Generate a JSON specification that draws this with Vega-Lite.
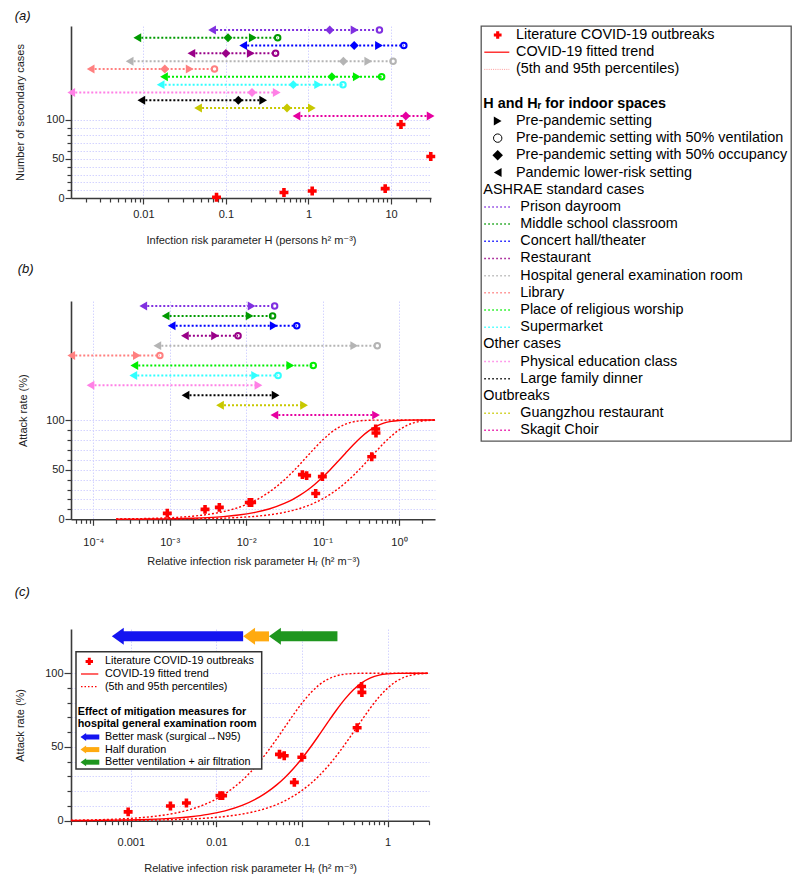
{
  "$schema": "https://vega.github.io/schema/vega-lite/v6.json",
  "padding": {"left": 14, "top": 10, "right": 0, "bottom": 0},
  "background": "white",
  "datasets": {
    "sp": [
      {"p":"a","c":"Prison dayroom","y":215,"s":"lower","v":0.068},
      {"p":"a","c":"Prison dayroom","y":215,"s":"occ","v":1.81},
      {"p":"a","c":"Prison dayroom","y":215,"s":"pre","v":3.62},
      {"p":"a","c":"Prison dayroom","y":215,"s":"vent","v":7.24},
      {"p":"a","c":"Middle school classroom","y":205,"s":"lower","v":0.00845},
      {"p":"a","c":"Middle school classroom","y":205,"s":"occ","v":0.106},
      {"p":"a","c":"Middle school classroom","y":205,"s":"pre","v":0.212},
      {"p":"a","c":"Middle school classroom","y":205,"s":"vent","v":0.424},
      {"p":"a","c":"Concert hall/theater","y":195,"s":"lower","v":0.162},
      {"p":"a","c":"Concert hall/theater","y":195,"s":"occ","v":3.58},
      {"p":"a","c":"Concert hall/theater","y":195,"s":"pre","v":7.15},
      {"p":"a","c":"Concert hall/theater","y":195,"s":"vent","v":14.3},
      {"p":"a","c":"Restaurant","y":185,"s":"lower","v":0.0382},
      {"p":"a","c":"Restaurant","y":185,"s":"occ","v":0.1},
      {"p":"a","c":"Restaurant","y":185,"s":"pre","v":0.2},
      {"p":"a","c":"Restaurant","y":185,"s":"vent","v":0.4},
      {"p":"a","c":"Hospital general examination room","y":175,"s":"lower","v":0.00682},
      {"p":"a","c":"Hospital general examination room","y":175,"s":"occ","v":2.65},
      {"p":"a","c":"Hospital general examination room","y":175,"s":"pre","v":5.3},
      {"p":"a","c":"Hospital general examination room","y":175,"s":"vent","v":10.6},
      {"p":"a","c":"Library","y":165,"s":"lower","v":0.0023},
      {"p":"a","c":"Library","y":165,"s":"occ","v":0.0182},
      {"p":"a","c":"Library","y":165,"s":"pre","v":0.0364},
      {"p":"a","c":"Library","y":165,"s":"vent","v":0.0728},
      {"p":"a","c":"Place of religious worship","y":155,"s":"lower","v":0.0178},
      {"p":"a","c":"Place of religious worship","y":155,"s":"occ","v":1.92},
      {"p":"a","c":"Place of religious worship","y":155,"s":"pre","v":3.85},
      {"p":"a","c":"Place of religious worship","y":155,"s":"vent","v":7.7},
      {"p":"a","c":"Supermarket","y":145,"s":"lower","v":0.0162},
      {"p":"a","c":"Supermarket","y":145,"s":"occ","v":0.655},
      {"p":"a","c":"Supermarket","y":145,"s":"pre","v":1.31},
      {"p":"a","c":"Supermarket","y":145,"s":"vent","v":2.62},
      {"p":"a","c":"Physical education class","y":135,"s":"lower","v":0.00134},
      {"p":"a","c":"Physical education class","y":135,"s":"occ","v":0.207},
      {"p":"a","c":"Physical education class","y":135,"s":"pre","v":0.413},
      {"p":"a","c":"Large family dinner","y":125,"s":"lower","v":0.00946},
      {"p":"a","c":"Large family dinner","y":125,"s":"occ","v":0.1415},
      {"p":"a","c":"Large family dinner","y":125,"s":"pre","v":0.283},
      {"p":"a","c":"Guangzhou restaurant","y":115,"s":"lower","v":0.046},
      {"p":"a","c":"Guangzhou restaurant","y":115,"s":"occ","v":0.55},
      {"p":"a","c":"Guangzhou restaurant","y":115,"s":"pre","v":1.1},
      {"p":"a","c":"Skagit Choir","y":105,"s":"lower","v":0.716},
      {"p":"a","c":"Skagit Choir","y":105,"s":"occ","v":15.1},
      {"p":"a","c":"Skagit Choir","y":105,"s":"pre","v":30.2},
      {"p":"b","c":"Prison dayroom","y":215,"s":"lower","v":0.000451},
      {"p":"b","c":"Prison dayroom","y":215,"s":"pre","v":0.0118},
      {"p":"b","c":"Prison dayroom","y":215,"s":"vent","v":0.0236},
      {"p":"b","c":"Middle school classroom","y":205,"s":"lower","v":0.000883},
      {"p":"b","c":"Middle school classroom","y":205,"s":"pre","v":0.0111},
      {"p":"b","c":"Middle school classroom","y":205,"s":"vent","v":0.0222},
      {"p":"b","c":"Concert hall/theater","y":195,"s":"lower","v":0.00106},
      {"p":"b","c":"Concert hall/theater","y":195,"s":"pre","v":0.023},
      {"p":"b","c":"Concert hall/theater","y":195,"s":"vent","v":0.046},
      {"p":"b","c":"Restaurant","y":185,"s":"lower","v":0.00158},
      {"p":"b","c":"Restaurant","y":185,"s":"pre","v":0.00392},
      {"p":"b","c":"Restaurant","y":185,"s":"vent","v":0.00784},
      {"p":"b","c":"Hospital general examination room","y":175,"s":"lower","v":0.000689},
      {"p":"b","c":"Hospital general examination room","y":175,"s":"pre","v":0.26},
      {"p":"b","c":"Hospital general examination room","y":175,"s":"vent","v":0.52},
      {"p":"b","c":"Library","y":165,"s":"lower","v":0.0000515},
      {"p":"b","c":"Library","y":165,"s":"pre","v":0.000372},
      {"p":"b","c":"Library","y":165,"s":"vent","v":0.000744},
      {"p":"b","c":"Place of religious worship","y":155,"s":"lower","v":0.000344},
      {"p":"b","c":"Place of religious worship","y":155,"s":"pre","v":0.0378},
      {"p":"b","c":"Place of religious worship","y":155,"s":"vent","v":0.0756},
      {"p":"b","c":"Supermarket","y":145,"s":"lower","v":0.000334},
      {"p":"b","c":"Supermarket","y":145,"s":"pre","v":0.0131},
      {"p":"b","c":"Supermarket","y":145,"s":"vent","v":0.0262},
      {"p":"b","c":"Physical education class","y":135,"s":"lower","v":0.000092},
      {"p":"b","c":"Physical education class","y":135,"s":"pre","v":0.0145},
      {"p":"b","c":"Large family dinner","y":125,"s":"lower","v":0.00161},
      {"p":"b","c":"Large family dinner","y":125,"s":"pre","v":0.0243},
      {"p":"b","c":"Guangzhou restaurant","y":115,"s":"lower","v":0.00455},
      {"p":"b","c":"Guangzhou restaurant","y":115,"s":"pre","v":0.0573},
      {"p":"b","c":"Skagit Choir","y":105,"s":"lower","v":0.0234},
      {"p":"b","c":"Skagit Choir","y":105,"s":"pre","v":0.501}
    ],
    "pa": [
      {"h":0.077,"n":1},{"h":0.505,"n":7},{"h":1.11,"n":9},{"h":8.5,"n":12},{"h":13.2,"n":94},{"h":30.3,"n":53}
    ],
    "pb": [
      {"hr":0.00093,"ar":6},{"hr":0.0029,"ar":10},{"hr":0.00446,"ar":12},{"hr":0.011,"ar":17},{"hr":0.0118,"ar":17},
      {"hr":0.0545,"ar":45},{"hr":0.0619,"ar":44},{"hr":0.0813,"ar":26},{"hr":0.0994,"ar":43},
      {"hr":0.44,"ar":63},{"hr":0.496,"ar":91},{"hr":0.5,"ar":87}
    ],
    "cv": [
      {"k":"fit","hr":0.0001995,"ar":0.11},{"k":"fit","hr":0.0003162,"ar":0.17},{"k":"fit","hr":0.0005012,"ar":0.28},{"k":"fit","hr":0.0007943,"ar":0.44},
      {"k":"fit","hr":0.001259,"ar":0.69},{"k":"fit","hr":0.001995,"ar":1.09},{"k":"fit","hr":0.003162,"ar":1.72},{"k":"fit","hr":0.005012,"ar":2.72},
      {"k":"fit","hr":0.007943,"ar":4.27},{"k":"fit","hr":0.01259,"ar":6.69},{"k":"fit","hr":0.01995,"ar":10.39},{"k":"fit","hr":0.03162,"ar":15.96},
      {"k":"fit","hr":0.03981,"ar":19.67},{"k":"fit","hr":0.05012,"ar":24.1},{"k":"fit","hr":0.0631,"ar":29.32},{"k":"fit","hr":0.07943,"ar":35.39},
      {"k":"fit","hr":0.1,"ar":42.31},{"k":"fit","hr":0.1259,"ar":49.97},{"k":"fit","hr":0.1585,"ar":58.18},{"k":"fit","hr":0.1995,"ar":66.61},
      {"k":"fit","hr":0.2512,"ar":74.88},{"k":"fit","hr":0.3162,"ar":82.43},{"k":"fit","hr":0.3981,"ar":88.8},{"k":"fit","hr":0.5012,"ar":93.65},
      {"k":"fit","hr":0.631,"ar":96.89},{"k":"fit","hr":0.7943,"ar":98.73},{"k":"fit","hr":1.0,"ar":99.59},{"k":"fit","hr":1.259,"ar":99.9},
      {"k":"fit","hr":1.995,"ar":100},{"k":"fit","hr":2.96,"ar":100},
      {"k":"p95","hr":0.0001995,"ar":0.32},{"k":"p95","hr":0.0003162,"ar":0.5},{"k":"p95","hr":0.0005012,"ar":0.8},{"k":"p95","hr":0.0007943,"ar":1.26},
      {"k":"p95","hr":0.001259,"ar":1.99},{"k":"p95","hr":0.001995,"ar":3.14},{"k":"p95","hr":0.003162,"ar":4.93},{"k":"p95","hr":0.005012,"ar":7.71},
      {"k":"p95","hr":0.00631,"ar":9.61},{"k":"p95","hr":0.007943,"ar":11.94},{"k":"p95","hr":0.01,"ar":14.79},{"k":"p95","hr":0.01259,"ar":18.24},
      {"k":"p95","hr":0.01585,"ar":22.4},{"k":"p95","hr":0.01995,"ar":27.33},{"k":"p95","hr":0.02512,"ar":33.09},{"k":"p95","hr":0.03162,"ar":39.7},
      {"k":"p95","hr":0.03981,"ar":47.11},{"k":"p95","hr":0.05012,"ar":55.15},{"k":"p95","hr":0.0631,"ar":63.56},{"k":"p95","hr":0.07943,"ar":71.95},
      {"k":"p95","hr":0.1,"ar":79.81},{"k":"p95","hr":0.1259,"ar":86.65},{"k":"p95","hr":0.1585,"ar":92.08},{"k":"p95","hr":0.1995,"ar":95.89},
      {"k":"p95","hr":0.2512,"ar":98.2},{"k":"p95","hr":0.3162,"ar":99.37},{"k":"p95","hr":0.5012,"ar":99.97},{"k":"p95","hr":0.7943,"ar":100},
      {"k":"p95","hr":1.259,"ar":100},{"k":"p95","hr":1.995,"ar":100},{"k":"p95","hr":2.96,"ar":100},
      {"k":"p5","hr":0.0001995,"ar":0.05},{"k":"p5","hr":0.0003162,"ar":0.07},{"k":"p5","hr":0.0005012,"ar":0.12},{"k":"p5","hr":0.0007943,"ar":0.18},
      {"k":"p5","hr":0.001259,"ar":0.29},{"k":"p5","hr":0.001995,"ar":0.46},{"k":"p5","hr":0.003162,"ar":0.72},{"k":"p5","hr":0.005012,"ar":1.15},
      {"k":"p5","hr":0.007943,"ar":1.81},{"k":"p5","hr":0.01259,"ar":2.85},{"k":"p5","hr":0.01995,"ar":4.49},{"k":"p5","hr":0.03162,"ar":7.01},
      {"k":"p5","hr":0.03981,"ar":8.75},{"k":"p5","hr":0.05012,"ar":10.89},{"k":"p5","hr":0.0631,"ar":13.51},{"k":"p5","hr":0.07943,"ar":16.7},
      {"k":"p5","hr":0.1,"ar":20.55},{"k":"p5","hr":0.1259,"ar":25.14},{"k":"p5","hr":0.1585,"ar":30.55},{"k":"p5","hr":0.1995,"ar":36.8},
      {"k":"p5","hr":0.2512,"ar":43.89},{"k":"p5","hr":0.3162,"ar":51.68},{"k":"p5","hr":0.3981,"ar":59.97},{"k":"p5","hr":0.5012,"ar":68.43},
      {"k":"p5","hr":0.631,"ar":76.57},{"k":"p5","hr":0.7943,"ar":83.91},{"k":"p5","hr":1.0,"ar":89.97},{"k":"p5","hr":1.259,"ar":94.47},
      {"k":"p5","hr":1.585,"ar":97.39},{"k":"p5","hr":1.995,"ar":98.98},{"k":"p5","hr":2.96,"ar":99.9}
    ],
    "ar": [
      {"m":"mask","from":0.0205,"to":0.0006},
      {"m":"duration","from":0.0411,"to":0.0205},
      {"m":"vent","from":0.259,"to":0.0411}
    ],
    "lr": [
      {"row":0,"k":"cross","label":"Literature COVID-19 outbreaks"},
      {"row":1,"k":"solid","label":"COVID-19 fitted trend"},
      {"row":2,"k":"dotted","label":"(5th and 95th percentiles)"},
      {"row":4,"k":"header","label":"H and Hᵣ for indoor spaces"},
      {"row":5,"k":"pre","label":"Pre-pandemic setting"},
      {"row":6,"k":"vent","label":"Pre-pandemic setting with 50% ventilation"},
      {"row":7,"k":"occ","label":"Pre-pandemic setting with 50% occupancy"},
      {"row":8,"k":"lower","label":"Pandemic lower-risk setting"},
      {"row":9,"k":"group","label":"ASHRAE standard cases"},
      {"row":10,"k":"case","label":"Prison dayroom"},
      {"row":11,"k":"case","label":"Middle school classroom"},
      {"row":12,"k":"case","label":"Concert hall/theater"},
      {"row":13,"k":"case","label":"Restaurant"},
      {"row":14,"k":"case","label":"Hospital general examination room"},
      {"row":15,"k":"case","label":"Library"},
      {"row":16,"k":"case","label":"Place of religious worship"},
      {"row":17,"k":"case","label":"Supermarket"},
      {"row":18,"k":"group","label":"Other cases"},
      {"row":19,"k":"case","label":"Physical education class"},
      {"row":20,"k":"case","label":"Large family dinner"},
      {"row":21,"k":"group","label":"Outbreaks"},
      {"row":22,"k":"case","label":"Guangzhou restaurant"},
      {"row":23,"k":"case","label":"Skagit Choir"}
    ],
    "lc": [
      {"row":0,"k":"cross","label":"Literature COVID-19 outbreaks"},
      {"row":1,"k":"solid","label":"COVID-19 fitted trend"},
      {"row":2,"k":"dotted","label":"(5th and 95th percentiles)"},
      {"row":4,"k":"header","label":"Effect of mitigation measures for"},
      {"row":5,"k":"header","label":"hospital general examination room"},
      {"row":6,"k":"arrow","m":"mask","label":"Better mask (surgical→N95)"},
      {"row":7,"k":"arrow","m":"duration","label":"Half duration"},
      {"row":8,"k":"arrow","m":"vent","label":"Better ventilation + air filtration"}
    ]
  },
  "hconcat": [
    {
      "spacing": 18,
      "resolve": {"scale": {"x": "independent", "y": "independent"}},
      "vconcat": [
        {
          "title": {"text": "(a)", "offset": 0},
          "width": 360,
          "height": 172,
          "layer": [
            {
              "data": {"name": "sp"},
              "transform": [
                {"filter": "datum.p == 'a'"},
                {"aggregate": [{"op": "min", "field": "v", "as": "lo"}, {"op": "max", "field": "v", "as": "hi"}], "groupby": ["c", "y"]}
              ],
              "mark": {"type": "rule", "strokeDash": [2, 2], "strokeWidth": 2},
              "encoding": {
                "x": {"field": "lo", "type": "quantitative", "scale": {"type": "log", "domain": [0.00133, 30.5], "nice": false},
                  "axis": {"title": "Infection risk parameter H (persons h² m⁻³)",
                    "values": [0.002,0.003,0.004,0.005,0.006,0.007,0.008,0.009,0.01,0.02,0.03,0.04,0.05,0.06,0.07,0.08,0.09,0.1,0.2,0.3,0.4,0.5,0.6,0.7,0.8,0.9,1,2,3,4,5,6,7,8,9,10,20,30],
                    "tickCount": 200,
                    "format": "~g",
                    "labelExpr": "abs(log(datum.value)/LN10 - round(log(datum.value)/LN10)) < 0.01 ? datum.label : ''",
                    "tickSize": {"condition": {"test": "abs(log(datum.value)/LN10 - round(log(datum.value)/LN10)) < 0.01", "value": 6}, "value": 4},
                    "grid": true,
                    "gridOpacity": {"condition": {"test": "abs(log(datum.value)/LN10 - round(log(datum.value)/LN10)) < 0.01", "value": 1}, "value": 0},
                    "labelPadding": 4, "titlePadding": 15, "labelFlush": false, "labelOverlap": false}},
                "x2": {"field": "hi"},
                "y": {"field": "y", "type": "quantitative", "scale": {"domain": [0, 220], "nice": false},
                  "axis": {"title": "Number of secondary cases", "values": [0,10,20,30,40,50,60,70,80,90,100], "tickCount": 200, "format": "~g",
                    "labelExpr": "datum.value % 50 == 0 ? datum.label : ''",
                    "tickSize": {"condition": {"test": "datum.value % 50 == 0", "value": 6}, "value": 4},
                    "grid": true, "labelPadding": 1, "titlePadding": 20, "labelOverlap": false}},
                "color": {"field": "c", "type": "nominal", "legend": null,
                  "scale": {"domain": ["Prison dayroom","Middle school classroom","Concert hall/theater","Restaurant","Hospital general examination room","Library","Place of religious worship","Supermarket","Physical education class","Large family dinner","Guangzhou restaurant","Skagit Choir"],
                    "range": ["#8030e0","#009a00","#0000ff","#990088","#b4b4b4","#ff8080","#00ee00","#30ffff","#ff80e6","#000000","#c8c800","#e600a0"]}}
              }
            },
            {
              "data": {"name": "sp"},
              "transform": [{"filter": "datum.p == 'a' && datum.s == 'lower'"}],
              "mark": {"type": "point", "shape": "triangle-left", "filled": true, "size": 80, "opacity": 1},
              "encoding": {"x": {"field": "v", "type": "quantitative"}, "y": {"field": "y", "type": "quantitative"}, "color": {"field": "c", "type": "nominal", "legend": null}}
            },
            {
              "data": {"name": "sp"},
              "transform": [{"filter": "datum.p == 'a' && datum.s == 'occ'"}],
              "mark": {"type": "point", "shape": "diamond", "filled": true, "size": 80, "opacity": 1},
              "encoding": {"x": {"field": "v", "type": "quantitative"}, "y": {"field": "y", "type": "quantitative"}, "color": {"field": "c", "type": "nominal", "legend": null}}
            },
            {
              "data": {"name": "sp"},
              "transform": [{"filter": "datum.p == 'a' && datum.s == 'pre'"}],
              "mark": {"type": "point", "shape": "triangle-right", "filled": true, "size": 80, "opacity": 1},
              "encoding": {"x": {"field": "v", "type": "quantitative"}, "y": {"field": "y", "type": "quantitative"}, "color": {"field": "c", "type": "nominal", "legend": null}}
            },
            {
              "data": {"name": "sp"},
              "transform": [{"filter": "datum.p == 'a' && datum.s == 'vent'"}],
              "mark": {"type": "point", "shape": "circle", "filled": false, "size": 30, "strokeWidth": 2, "opacity": 1},
              "encoding": {"x": {"field": "v", "type": "quantitative"}, "y": {"field": "y", "type": "quantitative"}, "color": {"field": "c", "type": "nominal", "legend": null}}
            },
            {
              "data": {"name": "pa"},
              "mark": {"type": "point", "shape": "cross", "filled": true, "size": 80, "color": "#ff0000", "opacity": 1},
              "encoding": {"x": {"field": "h", "type": "quantitative"}, "y": {"field": "n", "type": "quantitative"}}
            }
          ]
        },
        {
          "title": {"text": "(b)", "offset": 23},
          "width": 364,
          "height": 218.3,
          "layer": [
            {
              "data": {"name": "sp"},
              "transform": [
                {"filter": "datum.p == 'b'"},
                {"aggregate": [{"op": "min", "field": "v", "as": "lo"}, {"op": "max", "field": "v", "as": "hi"}], "groupby": ["c", "y"]}
              ],
              "mark": {"type": "rule", "strokeDash": [2, 2], "strokeWidth": 2},
              "encoding": {
                "x": {"field": "lo", "type": "quantitative", "scale": {"type": "log", "domain": [0.0000511, 2.96], "nice": false},
                  "axis": {"title": "Relative infection risk parameter Hᵣ (h² m⁻³)",
                    "values": [0.00006,0.00007,0.00008,0.00009,0.0001,0.0002,0.0003,0.0004,0.0005,0.0006,0.0007,0.0008,0.0009,0.001,0.002,0.003,0.004,0.005,0.006,0.007,0.008,0.009,0.01,0.02,0.03,0.04,0.05,0.06,0.07,0.08,0.09,0.1,0.2,0.3,0.4,0.5,0.6,0.7,0.8,0.9,1,2],
                    "tickCount": 200,
                    "labelExpr": "abs(log(datum.value)/LN10 + 4) < 0.01 ? '10⁻⁴' : abs(log(datum.value)/LN10 + 3) < 0.01 ? '10⁻³' : abs(log(datum.value)/LN10 + 2) < 0.01 ? '10⁻²' : abs(log(datum.value)/LN10 + 1) < 0.01 ? '10⁻¹' : abs(log(datum.value)/LN10) < 0.01 ? '10⁰' : ''",
                    "tickSize": {"condition": {"test": "abs(log(datum.value)/LN10 - round(log(datum.value)/LN10)) < 0.01", "value": 6}, "value": 4},
                    "grid": true,
                    "gridOpacity": {"condition": {"test": "abs(log(datum.value)/LN10 - round(log(datum.value)/LN10)) < 0.01", "value": 1}, "value": 0},
                    "labelPadding": 11, "titlePadding": 8, "labelFlush": false, "labelOverlap": false}},
                "x2": {"field": "hi"},
                "y": {"field": "y", "type": "quantitative", "scale": {"domain": [0, 220], "nice": false},
                  "axis": {"title": "Attack rate (%)", "values": [0,10,20,30,40,50,60,70,80,90,100], "tickCount": 200, "format": "~g",
                    "labelExpr": "datum.value % 50 == 0 ? datum.label : ''",
                    "tickSize": {"condition": {"test": "datum.value % 50 == 0", "value": 6}, "value": 4},
                    "grid": true, "labelPadding": 1, "titlePadding": 17, "labelOverlap": false}},
                "color": {"field": "c", "type": "nominal", "legend": null}
              }
            },
            {
              "data": {"name": "sp"},
              "transform": [{"filter": "datum.p == 'b' && datum.s == 'lower'"}],
              "mark": {"type": "point", "shape": "triangle-left", "filled": true, "size": 80, "opacity": 1},
              "encoding": {"x": {"field": "v", "type": "quantitative"}, "y": {"field": "y", "type": "quantitative"}, "color": {"field": "c", "type": "nominal", "legend": null}}
            },
            {
              "data": {"name": "sp"},
              "transform": [{"filter": "datum.p == 'b' && datum.s == 'pre'"}],
              "mark": {"type": "point", "shape": "triangle-right", "filled": true, "size": 80, "opacity": 1},
              "encoding": {"x": {"field": "v", "type": "quantitative"}, "y": {"field": "y", "type": "quantitative"}, "color": {"field": "c", "type": "nominal", "legend": null}}
            },
            {
              "data": {"name": "sp"},
              "transform": [{"filter": "datum.p == 'b' && datum.s == 'vent'"}],
              "mark": {"type": "point", "shape": "circle", "filled": false, "size": 30, "strokeWidth": 2, "opacity": 1},
              "encoding": {"x": {"field": "v", "type": "quantitative"}, "y": {"field": "y", "type": "quantitative"}, "color": {"field": "c", "type": "nominal", "legend": null}}
            },
            {
              "data": {"name": "cv"},
              "transform": [{"filter": "datum.k == 'fit'"}],
              "mark": {"type": "line", "color": "#ff0000", "strokeWidth": 1.4, "interpolate": "monotone"},
              "encoding": {"x": {"field": "hr", "type": "quantitative"}, "y": {"field": "ar", "type": "quantitative"}}
            },
            {
              "data": {"name": "cv"},
              "transform": [{"filter": "datum.k != 'fit'"}],
              "mark": {"type": "line", "color": "#ff0000", "strokeWidth": 1.4, "strokeDash": [2, 2], "interpolate": "monotone"},
              "encoding": {"x": {"field": "hr", "type": "quantitative"}, "y": {"field": "ar", "type": "quantitative"}, "detail": {"field": "k"}}
            },
            {
              "data": {"name": "pb"},
              "mark": {"type": "point", "shape": "cross", "filled": true, "size": 80, "color": "#ff0000", "opacity": 1},
              "encoding": {"x": {"field": "hr", "type": "quantitative"}, "y": {"field": "ar", "type": "quantitative"}}
            }
          ]
        },
        {
          "title": {"text": "(c)", "offset": 29},
          "width": 358,
          "height": 191.7,
          "resolve": {"scale": {"y": "independent"}},
          "layer": [
            {
              "layer": [
                {
                  "data": {"name": "cv"},
                  "transform": [{"filter": "datum.k == 'fit'"}],
                  "mark": {"type": "line", "color": "#ff0000", "strokeWidth": 1.4, "interpolate": "monotone"},
                  "encoding": {
                    "x": {"field": "hr", "type": "quantitative", "scale": {"type": "log", "domain": [0.0002, 3.04], "nice": false},
                      "axis": {"title": "Relative infection risk parameter Hᵣ (h² m⁻³)",
                        "values": [0.0002,0.0003,0.0004,0.0005,0.0006,0.0007,0.0008,0.0009,0.001,0.002,0.003,0.004,0.005,0.006,0.007,0.008,0.009,0.01,0.02,0.03,0.04,0.05,0.06,0.07,0.08,0.09,0.1,0.2,0.3,0.4,0.5,0.6,0.7,0.8,0.9,1,2,3],
                        "tickCount": 200,
                        "format": "~g",
                        "labelExpr": "abs(log(datum.value)/LN10 - round(log(datum.value)/LN10)) < 0.01 ? datum.label : ''",
                        "tickSize": {"condition": {"test": "abs(log(datum.value)/LN10 - round(log(datum.value)/LN10)) < 0.01", "value": 6}, "value": 4},
                        "grid": true,
                        "gridOpacity": {"condition": {"test": "abs(log(datum.value)/LN10 - round(log(datum.value)/LN10)) < 0.01", "value": 1}, "value": 0},
                        "labelPadding": 10, "titlePadding": 15, "labelFlush": false, "labelOverlap": false}},
                    "y": {"field": "ar", "type": "quantitative", "scale": {"domain": [0, 130], "nice": false},
                      "axis": {"title": "Attack rate (%)", "values": [0,10,20,30,40,50,60,70,80,90,100], "tickCount": 200, "format": "~g",
                        "labelExpr": "datum.value % 50 == 0 ? datum.label : ''",
                        "tickSize": {"condition": {"test": "datum.value % 50 == 0", "value": 7}, "value": 4},
                        "grid": true, "labelPadding": 1, "titlePadding": 19, "labelOverlap": false}}
                  }
                },
                {
                  "data": {"name": "cv"},
                  "transform": [{"filter": "datum.k != 'fit'"}],
                  "mark": {"type": "line", "color": "#ff0000", "strokeWidth": 1.4, "strokeDash": [2, 2], "interpolate": "monotone"},
                  "encoding": {"x": {"field": "hr", "type": "quantitative"}, "y": {"field": "ar", "type": "quantitative"}, "detail": {"field": "k"}}
                },
                {
                  "data": {"name": "pb"},
                  "mark": {"type": "point", "shape": "cross", "filled": true, "size": 80, "color": "#ff0000", "opacity": 1},
                  "encoding": {"x": {"field": "hr", "type": "quantitative"}, "y": {"field": "ar", "type": "quantitative"}}
                },
                {
                  "data": {"name": "ar"},
                  "mark": {"type": "rule", "strokeWidth": 10, "x2Offset": 11},
                  "encoding": {
                    "x": {"field": "from", "type": "quantitative"},
                    "x2": {"field": "to"},
                    "y": {"datum": 125, "type": "quantitative"},
                    "stroke": {"field": "m", "type": "nominal", "legend": null, "scale": {"domain": ["mask","duration","vent"], "range": ["#1414f0","#ffaa10","#1f961f"]}}
                  }
                },
                {
                  "data": {"name": "ar"},
                  "mark": {"type": "point", "shape": "M0,0L1.4,-1L1.4,1Z", "filled": true, "size": 289, "opacity": 1, "strokeWidth": 0},
                  "encoding": {
                    "x": {"field": "to", "type": "quantitative"},
                    "y": {"datum": 125, "type": "quantitative"},
                    "fill": {"field": "m", "type": "nominal", "legend": null, "scale": {"domain": ["mask","duration","vent"], "range": ["#1414f0","#ffaa10","#1f961f"]}}
                  }
                }
              ]
            },
            {
              "layer": [
                {
                  "data": {"values": [{}]},
                  "mark": {"type": "rect", "fill": "white", "stroke": "#333333", "strokeWidth": 1.5},
                  "encoding": {
                    "x": {"value": 5}, "x2": {"value": 190.7},
                    "y": {"datum": -0.77, "type": "quantitative", "scale": {"domain": [-2.571, 12.643], "reverse": true, "nice": false, "zero": false}, "axis": null},
                    "y2": {"datum": 8.54}
                  }
                },
                {
                  "data": {"name": "lc"},
                  "transform": [{"filter": "datum.k != 'header'"}],
                  "mark": {"type": "text", "align": "left", "baseline": "middle", "fontSize": 10.8, "x": 34, "color": "#000000"},
                  "encoding": {"y": {"field": "row", "type": "quantitative"}, "text": {"field": "label"}}
                },
                {
                  "data": {"name": "lc"},
                  "transform": [{"filter": "datum.k == 'header'"}],
                  "mark": {"type": "text", "align": "left", "baseline": "middle", "fontSize": 10.8, "fontWeight": "bold", "x": 6.7, "color": "#000000"},
                  "encoding": {"y": {"field": "row", "type": "quantitative"}, "text": {"field": "label"}}
                },
                {
                  "data": {"name": "lc"},
                  "transform": [{"filter": "datum.k == 'cross'"}],
                  "mark": {"type": "point", "shape": "cross", "filled": true, "size": 55, "color": "#ff0000", "opacity": 1, "x": 18.3},
                  "encoding": {"y": {"field": "row", "type": "quantitative"}}
                },
                {
                  "data": {"name": "lc"},
                  "transform": [{"filter": "datum.k == 'solid'"}],
                  "mark": {"type": "rule", "color": "#ff0000", "strokeWidth": 1.2, "x": 10, "x2": 27.3},
                  "encoding": {"y": {"field": "row", "type": "quantitative"}}
                },
                {
                  "data": {"name": "lc"},
                  "transform": [{"filter": "datum.k == 'dotted'"}],
                  "mark": {"type": "rule", "color": "#ff0000", "strokeWidth": 1.2, "strokeDash": [1.5, 2], "x": 10, "x2": 27.3},
                  "encoding": {"y": {"field": "row", "type": "quantitative"}}
                },
                {
                  "data": {"name": "lc"},
                  "transform": [{"filter": "datum.k == 'arrow'"}],
                  "mark": {"type": "rule", "strokeWidth": 5, "x": 15, "x2": 28.3},
                  "encoding": {"y": {"field": "row", "type": "quantitative"}, "stroke": {"field": "m", "type": "nominal", "legend": null}}
                },
                {
                  "data": {"name": "lc"},
                  "transform": [{"filter": "datum.k == 'arrow'"}],
                  "mark": {"type": "point", "shape": "M0,0L1.4,-1L1.4,1Z", "filled": true, "size": 64, "opacity": 1, "strokeWidth": 0, "x": 9.5},
                  "encoding": {"y": {"field": "row", "type": "quantitative"}, "fill": {"field": "m", "type": "nominal", "legend": null}}
                }
              ]
            }
          ]
        }
      ]
    },
    {
      "title": {"text": " ", "offset": 0},
      "width": 310,
      "height": 415,
      "view": {"stroke": "#555555", "strokeWidth": 1.3},
      "data": {"name": "lr"},
      "layer": [
        {
          "transform": [{"filter": "indexof(['cross','solid','dotted','pre','vent','occ','lower'], datum.k) >= 0"}],
          "mark": {"type": "text", "align": "left", "baseline": "middle", "fontSize": 14.4, "x": 35, "color": "#000000"},
          "encoding": {"y": {"field": "row", "type": "quantitative", "scale": {"domain": [-0.5236, 23.62], "reverse": true, "nice": false, "zero": false}, "axis": null}, "text": {"field": "label"}}
        },
        {
          "transform": [{"filter": "datum.k == 'header'"}],
          "mark": {"type": "text", "align": "left", "baseline": "middle", "fontSize": 14.4, "fontWeight": "bold", "x": 2.3, "color": "#000000"},
          "encoding": {"y": {"field": "row", "type": "quantitative"}, "text": {"field": "label"}}
        },
        {
          "transform": [{"filter": "datum.k == 'group'"}],
          "mark": {"type": "text", "align": "left", "baseline": "middle", "fontSize": 14.4, "x": 2.3, "color": "#000000"},
          "encoding": {"y": {"field": "row", "type": "quantitative"}, "text": {"field": "label"}}
        },
        {
          "transform": [{"filter": "datum.k == 'case'"}],
          "mark": {"type": "text", "align": "left", "baseline": "middle", "fontSize": 14.4, "x": 39.3, "color": "#000000"},
          "encoding": {"y": {"field": "row", "type": "quantitative"}, "text": {"field": "label"}}
        },
        {
          "transform": [{"filter": "datum.k == 'cross'"}],
          "mark": {"type": "point", "shape": "cross", "filled": true, "size": 60, "color": "#ff0000", "opacity": 1, "x": 16.7},
          "encoding": {"y": {"field": "row", "type": "quantitative"}}
        },
        {
          "transform": [{"filter": "datum.k == 'solid'"}],
          "mark": {"type": "rule", "color": "#ff0000", "strokeWidth": 1.2, "x": 3.3, "x2": 28.3},
          "encoding": {"y": {"field": "row", "type": "quantitative"}}
        },
        {
          "transform": [{"filter": "datum.k == 'dotted'"}],
          "mark": {"type": "rule", "color": "#ff9a9a", "strokeWidth": 1, "strokeDash": [1, 1.2], "x": 3.3, "x2": 28.3},
          "encoding": {"y": {"field": "row", "type": "quantitative"}}
        },
        {
          "transform": [{"filter": "datum.k == 'pre'"}],
          "mark": {"type": "point", "shape": "triangle-right", "filled": true, "size": 80, "color": "#000000", "opacity": 1, "x": 16.7},
          "encoding": {"y": {"field": "row", "type": "quantitative"}}
        },
        {
          "transform": [{"filter": "datum.k == 'vent'"}],
          "mark": {"type": "point", "shape": "circle", "filled": false, "size": 70, "strokeWidth": 1, "color": "#000000", "opacity": 1, "x": 16.7},
          "encoding": {"y": {"field": "row", "type": "quantitative"}}
        },
        {
          "transform": [{"filter": "datum.k == 'occ'"}],
          "mark": {"type": "point", "shape": "diamond", "filled": true, "size": 110, "color": "#000000", "opacity": 1, "x": 16.7},
          "encoding": {"y": {"field": "row", "type": "quantitative"}}
        },
        {
          "transform": [{"filter": "datum.k == 'lower'"}],
          "mark": {"type": "point", "shape": "triangle-left", "filled": true, "size": 80, "color": "#000000", "opacity": 1, "x": 16.7},
          "encoding": {"y": {"field": "row", "type": "quantitative"}}
        },
        {
          "transform": [{"filter": "datum.k == 'case'"}],
          "mark": {"type": "rule", "strokeWidth": 1.5, "strokeDash": [1.5, 2.5], "x": 3.3, "x2": 29},
          "encoding": {"y": {"field": "row", "type": "quantitative"}, "color": {"field": "label", "type": "nominal", "legend": null}}
        }
      ]
    }
  ],
  "spacing": 42,
  "resolve": {"scale": {"x": "independent", "y": "independent"}},
  "config": {
    "font": "Liberation Sans",
    "view": {"stroke": null},
    "axis": {
      "domainColor": "#3a3a3a", "domainWidth": 1.6, "tickColor": "#3a3a3a", "tickWidth": 1.2,
      "labelFont": "Liberation Sans", "labelFontSize": 11, "labelColor": "#222222",
      "titleFont": "Liberation Sans, DejaVu Sans", "titleFontSize": 11, "titleFontWeight": "normal", "titleColor": "#222222",
      "gridColor": "#d4d4ff", "gridDash": [1.5, 1.5], "gridWidth": 1
    },
    "title": {"font": "Liberation Sans", "fontSize": 13, "fontStyle": "italic", "fontWeight": "normal", "anchor": "start", "frame": "bounds", "color": "#111111"},
    "text": {"font": "Liberation Sans, DejaVu Sans"}
  }
}
